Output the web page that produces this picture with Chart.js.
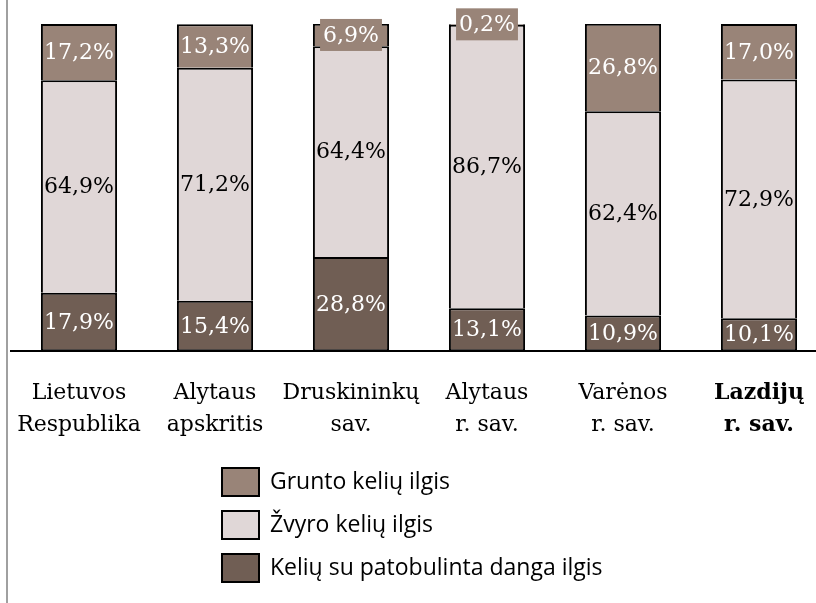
<!DOCTYPE html>
<html>
<head>
<meta charset="utf-8">
<script src="https://cdn.jsdelivr.net/npm/chart.js@4"></script>
<style>
html,body{margin:0;padding:0;background:#fff;overflow:hidden}
#wrap{width:830px;height:603px}
</style>
</head>
<body>
<div id="wrap"><canvas id="c" width="830" height="603"></canvas></div>
<script>
// kategorijos ir reikšmės (%)
const categories=[["Lietuvos","Respublika"],["Alytaus","apskritis"],["Druskininkų","sav."],["Alytaus","r. sav."],["Varėnos","r. sav."],["Lazdijų","r. sav."]];
const patobulinta=[17.9,15.4,28.8,13.1,10.9,10.1];
const zvyro=[64.9,71.2,64.4,86.7,62.4,72.9];
const grunto=[17.2,13.3,6.9,0.2,26.8,17.0];
const seriesNames=["Kelių su patobulinta danga ilgis","Žvyro kelių ilgis","Grunto kelių ilgis"];
const seriesColors=["#705e54","#e0d7d7","#998478"];

const fmt=v=>v.toFixed(1).replace('.',',')+'%';

/* reikšmių etiketės segmentų centre; mažiems grunto segmentams – fonas */
const valueLabels={id:'valueLabels',
  afterDatasetsDraw(chart){
    const ctx=chart.ctx;
    ctx.save();
    ctx.font='22px "DejaVu Serif"';
    ctx.textAlign='center';ctx.textBaseline='middle';
    chart.data.datasets.forEach((ds,di)=>{
      chart.getDatasetMeta(di).data.forEach((el,i)=>{
        const t=fmt(ds.data[i]);
        const y=(el.y+el.base)/2;
        if(di===2&&Math.abs(el.base-el.y)<30){
          const w=ctx.measureText(t).width+6;
          ctx.fillStyle=ds.backgroundColor;
          ctx.fillRect(el.x-w/2,y-16,w,32);
        }
        ctx.fillStyle=di===1?'#000':'#fff';
        ctx.fillText(t,el.x,y+1);
      });
    });
    ctx.restore();
  }};

/* legenda stulpeliu + pilkas rėmo kraštas */
const sideLegend={id:'sideLegend',
  afterDraw(chart){
    const ctx=chart.ctx;
    ctx.save();
    ctx.strokeStyle='#a0a0a0';ctx.lineWidth=2;
    ctx.beginPath();ctx.moveTo(7,0);ctx.lineTo(7,603);ctx.stroke();
    ctx.font='23px "Open Sans"';ctx.textBaseline='middle';ctx.textAlign='left';
    [2,1,0].forEach((di,row)=>{
      const cy=482+row*43;
      ctx.fillStyle=seriesColors[di];
      ctx.fillRect(222,cy-14,37,28);
      ctx.strokeStyle='#000';ctx.lineWidth=2;
      ctx.strokeRect(222,cy-14,37,28);
      ctx.fillStyle='#000';
      ctx.fillText(seriesNames[di],270,cy);
    });
    ctx.restore();
  }};

// kraštinės: kiekvienas segmentas turi viršutinę liniją, apačią tik pirmas
const bw=i=>({left:2,right:2,top:2,bottom:i===0?2:0});
const mk=(i,data)=>({label:seriesNames[i],data,backgroundColor:seriesColors[i],borderColor:'#000',borderWidth:bw(i),borderSkipped:false,barPercentage:0.56,categoryPercentage:1});

new Chart(document.getElementById('c'),{
  type:'bar',
  data:{labels:categories,datasets:[mk(0,patobulinta),mk(1,zvyro),mk(2,grunto)]},
  options:{responsive:false,animation:false,devicePixelRatio:1,
    layout:{padding:{top:24,left:11,right:3,bottom:144}},
    plugins:{legend:{display:false},tooltip:{enabled:false}},
    scales:{
      x:{stacked:true,grid:{display:false},border:{color:'#000',width:2},
        afterFit(s){s.paddingLeft=0;s.paddingRight=0;},
        ticks:{autoSkip:false,maxRotation:0,padding:18,color:'#000',
          font:c=>({family:'"DejaVu Serif"',size:22,lineHeight:1.45,weight:c.index===5?'bold':'normal'})}},
      y:{stacked:true,display:false,min:0,max:100}
    }},
  plugins:[valueLabels,sideLegend]
});
</script>
</body>
</html>
